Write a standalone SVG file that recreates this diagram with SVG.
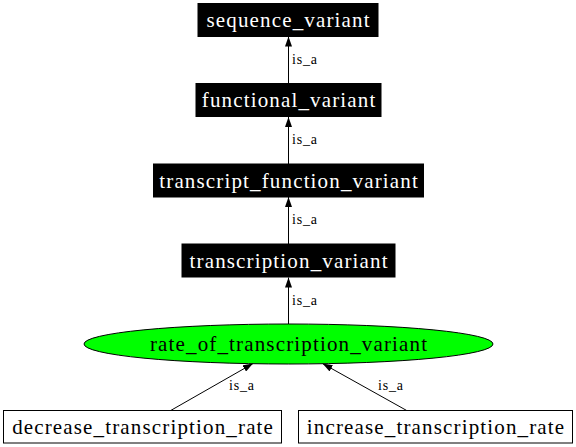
<svg xmlns="http://www.w3.org/2000/svg" width="576" height="447" viewBox="0 0 576 447">
<style>
.dark rect{fill:#000;stroke:#000;stroke-width:1}
.dark text{fill:#fff}
.light rect{fill:#fff;stroke:#000;stroke-width:1}
.nt{font-family:"Liberation Serif","Times New Roman",serif;font-size:21px;letter-spacing:1.15px;text-anchor:middle}
.el{font-family:"Liberation Serif","Times New Roman",serif;font-size:14px;letter-spacing:0.8px}
.edge{stroke:#000;stroke-width:1;fill:none;marker-end:url(#ah)}
</style>
<defs>
<marker id="ah" markerWidth="10" markerHeight="7" refX="10" refY="3.5" orient="auto" markerUnits="userSpaceOnUse">
<path d="M0,0 L10,3.5 L0,7 Z" fill="#000"/>
</marker>
</defs>
<rect width="576" height="447" fill="#fff"/>
<g id="connectors">
<line class="edge" x1="288.5" y1="83" x2="288.5" y2="36.5"/>
<text class="el" x="292" y="63.5">is_a</text>
<line class="edge" x1="288.5" y1="164" x2="288.5" y2="117"/>
<text class="el" x="292" y="143.5">is_a</text>
<line class="edge" x1="288.5" y1="244" x2="288.5" y2="197"/>
<text class="el" x="292" y="223.5">is_a</text>
<line class="edge" x1="288.5" y1="324" x2="288.5" y2="277.5"/>
<text class="el" x="292" y="304.5">is_a</text>
<line class="edge" x1="170.7" y1="410.5" x2="253" y2="363.5"/>
<text class="el" x="229" y="389.5">is_a</text>
<line class="edge" x1="406.7" y1="410.5" x2="322.5" y2="363.5"/>
<text class="el" x="378" y="389.5">is_a</text>
</g>
<g id="sequence_variant" class="dark">
<rect x="198" y="3.5" width="180" height="33"/>
<text class="nt" x="288.6" y="26.5">sequence_variant</text>
</g>
<g id="functional_variant" class="dark">
<rect x="196" y="83.5" width="185" height="33"/>
<text class="nt" x="289.1" y="107">functional_variant</text>
</g>
<g id="transcript_function_variant" class="dark">
<rect x="153.5" y="164" width="270" height="33"/>
<text class="nt" x="289.1" y="187.5">transcript_function_variant</text>
</g>
<g id="transcription_variant" class="dark">
<rect x="182" y="244" width="213" height="33"/>
<text class="nt" x="289.1" y="267.5">transcription_variant</text>
</g>
<g id="rate_of_transcription_variant">
<ellipse cx="288.5" cy="344" rx="204.5" ry="20" fill="#00ff00" stroke="#000" stroke-width="1"/>
<text class="nt" x="289.1" y="350.5">rate_of_transcription_variant</text>
</g>
<g id="decrease_transcription_rate" class="light">
<rect x="3.5" y="410.5" width="278" height="32.5"/>
<text class="nt" x="143.1" y="434">decrease_transcription_rate</text>
</g>
<g id="increase_transcription_rate" class="light">
<rect x="298.5" y="410.5" width="274" height="32.5"/>
<text class="nt" x="436.1" y="434">increase_transcription_rate</text>
</g>
</svg>
